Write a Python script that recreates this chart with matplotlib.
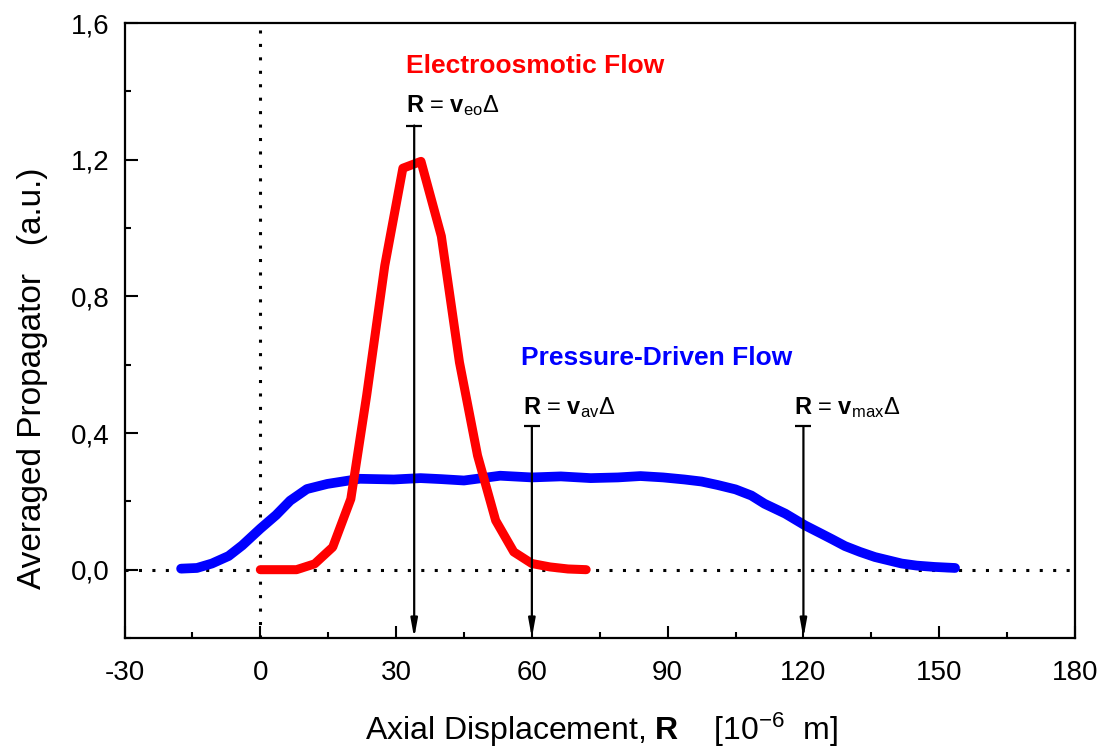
import matplotlib
matplotlib.use('Agg')
import matplotlib.pyplot as plt
from matplotlib.ticker import MultipleLocator, FuncFormatter

plt.rcParams['font.family'] = ['Liberation Sans', 'DejaVu Sans']
plt.rcParams['mathtext.fontset'] = 'custom'
plt.rcParams['mathtext.rm'] = 'Liberation Sans'
plt.rcParams['mathtext.bf'] = 'Liberation Sans:bold'
plt.rcParams['mathtext.it'] = 'Liberation Sans:italic'
plt.rcParams['axes.unicode_minus'] = False

# electroosmotic flow propagator
eo_x = [0, 4, 8, 12, 16, 20, 23.5, 27.5, 31.5, 35.5, 40, 44, 48, 52, 56, 60, 64, 68, 72]
eo_y = [0, 0, 0, 0.017, 0.066, 0.207, 0.51, 0.89, 1.175, 1.195, 0.976, 0.607, 0.334,
        0.144, 0.052, 0.018, 0.008, 0.002, 0]

# pressure-driven flow propagator
pd_x = [-17.5, -14, -10.7, -7, -4, 0, 3.5, 6.6, 10.3, 14.8, 22, 29.5, 35.4, 40, 45, 49,
        53, 60, 66.4, 73, 79, 84, 89, 93.7, 97.5, 101, 105, 108.5, 111.4, 116, 120.3,
        124, 126.2, 129.2, 132.5, 135.8, 141.7, 145, 149, 153.5]
pd_y = [0.003, 0.005, 0.018, 0.04, 0.071, 0.12, 0.16, 0.202, 0.236, 0.251, 0.266, 0.264,
        0.268, 0.265, 0.261, 0.268, 0.275, 0.27, 0.273, 0.268, 0.27, 0.274, 0.27, 0.264,
        0.258, 0.248, 0.235, 0.217, 0.193, 0.164, 0.13, 0.105, 0.09, 0.069, 0.052, 0.037,
        0.018, 0.012, 0.008, 0.005]

# marker arrows R = v*Delta
arrow_x = [34, 60, 120]
arrow_top = [1.3, 0.42, 0.42]
arrow_labels = [r'$\mathbf{R}$ = $\mathbf{v}_{\mathrm{eo}}\Delta$',
                r'$\mathbf{R}$ = $\mathbf{v}_{\mathrm{av}}\Delta$',
                r'$\mathbf{R}$ = $\mathbf{v}_{\mathrm{max}}\Delta$']

fig = plt.figure(figsize=(11.03, 7.47), dpi=100)
ax = fig.add_axes([0.1129, 0.1459, 0.8617, 0.8233])

ax.set_xlim(-30, 180)
ax.set_ylim(-0.2, 1.6)

dots = (0, (1, 3.4))
ax.axhline(0, color='k', lw=2.2, ls=dots, zorder=1)
ax.axvline(0, color='k', lw=2.2, ls=dots, zorder=1)

ax.plot(pd_x, pd_y, color='#0000ff', lw=7, solid_capstyle='round',
        solid_joinstyle='round', zorder=3)
ax.plot(eo_x, eo_y, color='#ff0000', lw=6.5, solid_capstyle='round',
        solid_joinstyle='round', zorder=3)

for x, top in zip(arrow_x, arrow_top):
    ax.annotate('', xy=(x, -0.2), xytext=(x, top),
                arrowprops=dict(arrowstyle='-|>,head_length=0.55,head_width=0.1',
                                mutation_scale=20, lw=1.6, color='k',
                                shrinkA=0, shrinkB=0),
                zorder=4)
    ax.plot([x], [top], marker='_', ms=11, mew=1.6, color='k', zorder=4)

ax.text(32.3, 1.454, 'Electroosmotic Flow', color='#ff0000', fontsize=19,
        fontweight='bold')
ax.text(57.6, 0.60, 'Pressure-Driven Flow', color='#0000ff', fontsize=19,
        fontweight='bold')
ax.text(32.3, 1.34, arrow_labels[0], fontsize=17)
ax.text(58, 0.455, arrow_labels[1], fontsize=17)
ax.text(118, 0.455, arrow_labels[2], fontsize=17)

ax.xaxis.set_major_locator(MultipleLocator(30))
ax.xaxis.set_minor_locator(MultipleLocator(15))
ax.yaxis.set_major_locator(MultipleLocator(0.4))
ax.yaxis.set_minor_locator(MultipleLocator(0.2))
ax.yaxis.set_major_formatter(FuncFormatter(lambda v, p: ('%.1f' % v).replace('.', ',')))

ax.tick_params(which='both', direction='in', width=1.5, labelsize=20)
ax.tick_params(which='major', length=9)
ax.tick_params(which='minor', length=4.5)
ax.tick_params(axis='x', pad=16)
ax.tick_params(axis='y', pad=11)
for s in ax.spines.values():
    s.set_linewidth(1.6)

ax.set_xlabel(r'Axial Displacement, $\mathbf{R}$    [10$^{-6}$  m]', fontsize=23)
ax.set_ylabel('Averaged Propagator   (a.u.)', fontsize=24)
ax.xaxis.set_label_coords(0.502, -0.118)
ax.yaxis.set_label_coords(-0.081, 0.423)

fig.savefig('out.png', dpi=100)
